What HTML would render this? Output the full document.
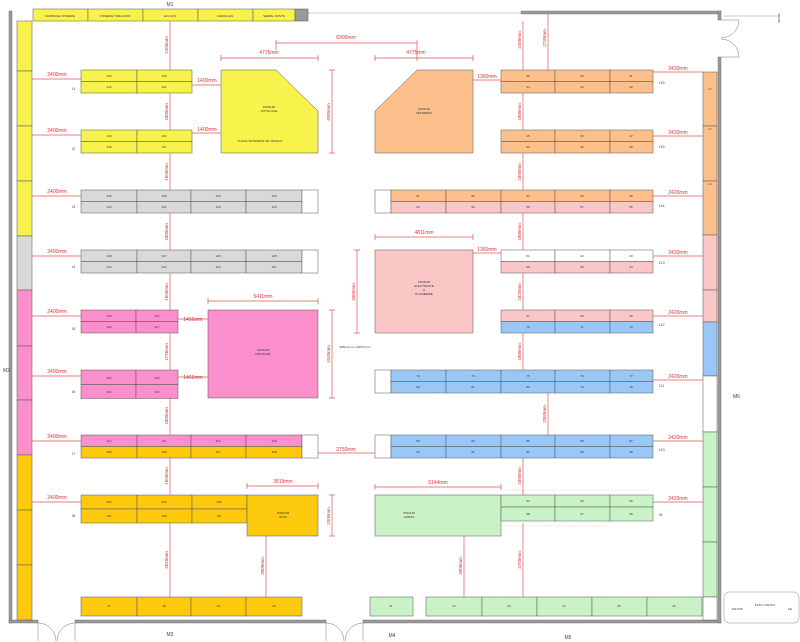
<!DOCTYPE html>
<html><head><meta charset="utf-8"><style>
html,body{margin:0;padding:0;background:#fff}
svg{display:block;font-family:"Liberation Sans",sans-serif}
.c{stroke:#555;stroke-width:.5}
.t{font-size:3px;fill:#333;text-anchor:middle}
.d{stroke:#e05555;stroke-width:.7;fill:none}
.dl{font-size:5px;fill:#d33;text-anchor:middle}
.w{fill:#999;stroke:#666;stroke-width:.4}
.lb{font-size:5px;fill:#444}
</style></head><body>
<svg width="800" height="642" viewBox="0 0 800 642" xmlns="http://www.w3.org/2000/svg">
<rect class="w" x="9" y="11" width="3" height="612"/>
<rect class="w" x="9" y="620" width="29" height="3"/>
<rect class="w" x="75" y="620" width="251" height="3"/>
<rect class="w" x="363" y="620" width="358" height="3"/>
<rect class="w" x="521" y="11" width="200" height="3"/>
<rect class="w" x="718" y="11" width="3" height="9"/>
<rect class="w" x="718" y="57" width="3" height="566"/>
<line x1="308" y1="13" x2="521" y2="13" stroke="#ccc" stroke-width="1"/>
<path d="M38 623 v18 M75 623 v18 M38 623 a18 18 0 0 1 18 18 M75 623 a18 18 0 0 0 -18 18" stroke="#777" fill="none" stroke-width=".5"/>
<path d="M326 623 v18 M363 623 v18 M326 623 a18 18 0 0 1 18 18 M363 623 a18 18 0 0 0 -18 18" stroke="#777" fill="none" stroke-width=".5"/>
<path d="M721 20 h18 M721 57 h18 M739 20 a18 18 0 0 1 -18 18 M739 57 a18 18 0 0 0 -18 -18" stroke="#777" fill="none" stroke-width=".5"/>
<line x1="724" y1="16" x2="780" y2="16" stroke="#777" stroke-width=".4"/>
<text x="780" y="18" class="t" transform="rotate(-90 780 18)">300mm</text>
<text x="170" y="6" class="lb" text-anchor="middle">M1</text>
<text x="3" y="372" class="lb">M2</text>
<text x="170" y="636" class="lb" text-anchor="middle">M3</text>
<text x="392" y="637" class="lb" text-anchor="middle">M4</text>
<text x="568" y="639" class="lb" text-anchor="middle">M5</text>
<text x="733" y="398" class="lb">M6</text>

<g class="c">
<rect x="33" y="9" width="55" height="12" fill="#f8f24c"/><rect x="88" y="9" width="55" height="12" fill="#f8f24c"/><rect x="143" y="9" width="55" height="12" fill="#f8f24c"/><rect x="198" y="9" width="55" height="12" fill="#f8f24c"/><rect x="253" y="9" width="42" height="12" fill="#f8f24c"/><rect x="295" y="9" width="13" height="12" fill="#999"/>
</g>
<g class="t"><text x="60" y="17">CARRIAGE VISSERIE</text><text x="115" y="17">VISSERIE TIRE-FOND</text><text x="170" y="17">ECLOUS</text><text x="225" y="17">CHEVILLES</text><text x="274" y="17">SERRE JOINTS</text></g>

<g class="c">
<rect x="17" y="21" width="15" height="50" fill="#f8f24c"/><rect x="17" y="71" width="15" height="55" fill="#f8f24c"/><rect x="17" y="126" width="15" height="55" fill="#f8f24c"/><rect x="17" y="181" width="15" height="55" fill="#f8f24c"/>
<rect x="17" y="236" width="15" height="54" fill="#d9d9d9"/>
<rect x="17" y="290" width="15" height="56" fill="#fb8fcb"/><rect x="17" y="346" width="15" height="54" fill="#fb8fcb"/><rect x="17" y="400" width="15" height="55" fill="#fb8fcb"/>
<rect x="17" y="455" width="15" height="55" fill="#fdc90d"/><rect x="17" y="510" width="15" height="55" fill="#fdc90d"/><rect x="17" y="565" width="15" height="55" fill="#fdc90d"/>
</g>

<g class="c">
<rect x="703" y="72" width="14" height="54" fill="#fbc08c"/><rect x="703" y="126" width="14" height="55" fill="#fbc08c"/><rect x="703" y="181" width="14" height="54" fill="#fbc08c"/>
<rect x="703" y="235" width="14" height="55" fill="#fac6c6"/><rect x="703" y="290" width="14" height="32" fill="#fac6c6"/>
<rect x="703" y="322" width="14" height="54" fill="#99c8f7"/><rect x="703" y="376" width="14" height="56" fill="#fff"/>
<rect x="703" y="432" width="14" height="55" fill="#c9f3c6"/><rect x="703" y="487" width="14" height="55" fill="#c9f3c6"/><rect x="703" y="542" width="14" height="55" fill="#c9f3c6"/><rect x="703" y="597" width="14" height="23" fill="#fff"/>
</g>
<g class="t"><text x="710" y="90">2 x</text><text x="710" y="130">2 x</text><text x="710" y="185">2 x</text></g>

<g class="c">
<rect x="81" y="70" width="56" height="11.5" fill="#f8f24c"/><rect x="137" y="70" width="55" height="11.5" fill="#f8f24c"/>
<rect x="81" y="81.5" width="56" height="11.5" fill="#f8f24c"/><rect x="137" y="81.5" width="55" height="11.5" fill="#f8f24c"/>
<rect x="81" y="130" width="56" height="11.5" fill="#f8f24c"/><rect x="137" y="130" width="55" height="11.5" fill="#f8f24c"/>
<rect x="81" y="141.5" width="56" height="11.5" fill="#f8f24c"/><rect x="137" y="141.5" width="55" height="11.5" fill="#f8f24c"/>
<rect x="81" y="190" width="56" height="11.5" fill="#d9d9d9"/><rect x="137" y="190" width="54" height="11.5" fill="#d9d9d9"/><rect x="191" y="190" width="55" height="11.5" fill="#d9d9d9"/><rect x="246" y="190" width="56" height="11.5" fill="#d9d9d9"/>
<rect x="81" y="201.5" width="56" height="11.5" fill="#d9d9d9"/><rect x="137" y="201.5" width="54" height="11.5" fill="#d9d9d9"/><rect x="191" y="201.5" width="55" height="11.5" fill="#d9d9d9"/><rect x="246" y="201.5" width="56" height="11.5" fill="#d9d9d9"/>
<rect x="302" y="190" width="16" height="23" fill="#fff"/>
<rect x="81" y="250" width="56" height="11.5" fill="#d9d9d9"/><rect x="137" y="250" width="54" height="11.5" fill="#d9d9d9"/><rect x="191" y="250" width="55" height="11.5" fill="#d9d9d9"/><rect x="246" y="250" width="56" height="11.5" fill="#d9d9d9"/>
<rect x="81" y="261.5" width="56" height="11.5" fill="#d9d9d9"/><rect x="137" y="261.5" width="54" height="11.5" fill="#d9d9d9"/><rect x="191" y="261.5" width="55" height="11.5" fill="#d9d9d9"/><rect x="246" y="261.5" width="56" height="11.5" fill="#d9d9d9"/>
<rect x="302" y="250" width="16" height="23" fill="#fff"/>
<rect x="81" y="310" width="55" height="11.5" fill="#fb8fcb"/><rect x="136" y="310" width="42" height="11.5" fill="#fb8fcb"/>
<rect x="81" y="321.5" width="55" height="11.5" fill="#fb8fcb"/><rect x="136" y="321.5" width="42" height="11.5" fill="#fb8fcb"/>
<rect x="81" y="370" width="55" height="14.5" fill="#fb8fcb"/><rect x="136" y="370" width="42" height="14.5" fill="#fb8fcb"/>
<rect x="81" y="384.5" width="55" height="14" fill="#fb8fcb"/><rect x="136" y="384.5" width="42" height="14" fill="#fb8fcb"/>
<rect x="81" y="435" width="56" height="11.5" fill="#fb8fcb"/><rect x="137" y="435" width="54" height="11.5" fill="#fb8fcb"/><rect x="191" y="435" width="55" height="11.5" fill="#fb8fcb"/><rect x="246" y="435" width="56" height="11.5" fill="#fb8fcb"/>
<rect x="81" y="446.5" width="56" height="11.5" fill="#fdc90d"/><rect x="137" y="446.5" width="54" height="11.5" fill="#fdc90d"/><rect x="191" y="446.5" width="55" height="11.5" fill="#fdc90d"/><rect x="246" y="446.5" width="56" height="11.5" fill="#fdc90d"/>
<rect x="302" y="435" width="16" height="23" fill="#fff"/>
<rect x="81" y="495" width="56" height="14" fill="#fdc90d"/><rect x="137" y="495" width="55" height="14" fill="#fdc90d"/><rect x="192" y="495" width="55" height="14" fill="#fdc90d"/>
<rect x="81" y="509" width="56" height="14" fill="#fdc90d"/><rect x="137" y="509" width="55" height="14" fill="#fdc90d"/><rect x="192" y="509" width="55" height="14" fill="#fdc90d"/>
<rect x="247" y="495" width="71" height="41" fill="#fdc90d"/>
<rect x="81" y="597" width="56" height="19" fill="#fdc90d"/><rect x="137" y="597" width="54" height="19" fill="#fdc90d"/><rect x="191" y="597" width="55" height="19" fill="#fdc90d"/><rect x="246" y="597" width="56" height="19" fill="#fdc90d"/>
<path d="M221 70 H276 L318 111 V153 H221 Z" fill="#f8f24c"/>
<path d="M417 70 H473 V153 H375 V111 Z" fill="#fbc08c"/>
<rect x="208" y="310" width="110" height="88" fill="#fb8fcb"/>
<rect x="375" y="250" width="98" height="83" fill="#fac6c6"/>
<rect x="375" y="495" width="126" height="41" fill="#c9f3c6"/>
</g>
<g class="t">
<text x="109" y="77">143</text><text x="164" y="77">142</text><text x="109" y="88">142</text><text x="164" y="88">141</text>
<text x="109" y="137">140</text><text x="164" y="137">139</text><text x="109" y="148">138</text><text x="164" y="148">137</text>
<text x="109" y="197">136</text><text x="164" y="197">135</text><text x="218" y="197">134</text><text x="274" y="197">133</text>
<text x="109" y="208">132</text><text x="164" y="208">131</text><text x="218" y="208">130</text><text x="274" y="208">129</text>
<text x="109" y="257">128</text><text x="164" y="257">127</text><text x="218" y="257">126</text><text x="274" y="257">125</text>
<text x="109" y="268">124</text><text x="164" y="268">123</text><text x="218" y="268">122</text><text x="274" y="268">121</text>
<text x="109" y="317">120</text><text x="157" y="317">119</text><text x="109" y="328">118</text><text x="157" y="328">117</text>
<text x="109" y="379">116</text><text x="157" y="379">115</text><text x="109" y="393">114</text><text x="157" y="393">113</text>
<text x="109" y="442">112</text><text x="164" y="442">111</text><text x="218" y="442">110</text><text x="274" y="442">109</text>
<text x="109" y="453">105</text><text x="164" y="453">106</text><text x="218" y="453">107</text><text x="274" y="453">108</text>
<text x="109" y="503">104</text><text x="164" y="503">103</text><text x="219" y="503">102</text>
<text x="109" y="517">101</text><text x="164" y="517">100</text><text x="219" y="517">99</text>
<text x="109" y="607">17</text><text x="164" y="607">18</text><text x="218" y="607">19</text><text x="274" y="607">20</text>
<text x="269" y="108">PODIUM</text><text x="269" y="112">OUTILLAGE</text><text x="260" y="142">PLANS VÊTEMENT DE TRAVAIL</text>
<text x="424" y="110">PODIUM</text><text x="424" y="114">VETEMENT</text>
<text x="263" y="351">PODIUM</text><text x="263" y="355">PEINTURE</text>
<text x="424" y="283">PODIUM</text><text x="424" y="287">ELECTRICITE</text><text x="424" y="291">&amp;</text><text x="424" y="295">PLOMBERIE</text>
<text x="283" y="514">PODIUM</text><text x="283" y="518">BOIS</text>
<text x="409" y="514">PODIUM</text><text x="409" y="518">JARDIN</text>
<text x="355" y="348">3650,0 cm x 2870,0 cm</text>
</g>

<g class="c">
<rect x="501" y="70" width="54" height="11.5" fill="#fbc08c"/><rect x="555" y="70" width="55" height="11.5" fill="#fbc08c"/><rect x="610" y="70" width="43" height="11.5" fill="#fbc08c"/>
<rect x="501" y="81.5" width="54" height="11.5" fill="#fbc08c"/><rect x="555" y="81.5" width="55" height="11.5" fill="#fbc08c"/><rect x="610" y="81.5" width="43" height="11.5" fill="#fbc08c"/>
<rect x="501" y="130" width="54" height="11.5" fill="#fbc08c"/><rect x="555" y="130" width="55" height="11.5" fill="#fbc08c"/><rect x="610" y="130" width="43" height="11.5" fill="#fbc08c"/>
<rect x="501" y="141.5" width="54" height="11.5" fill="#fbc08c"/><rect x="555" y="141.5" width="55" height="11.5" fill="#fbc08c"/><rect x="610" y="141.5" width="43" height="11.5" fill="#fbc08c"/>
<rect x="375" y="190" width="16" height="23" fill="#fff"/>
<rect x="391" y="190" width="55" height="11.5" fill="#fbc08c"/><rect x="446" y="190" width="55" height="11.5" fill="#fbc08c"/><rect x="501" y="190" width="54" height="11.5" fill="#fbc08c"/><rect x="555" y="190" width="55" height="11.5" fill="#fbc08c"/><rect x="610" y="190" width="43" height="11.5" fill="#fbc08c"/>
<rect x="391" y="201.5" width="55" height="11.5" fill="#fac6c6"/><rect x="446" y="201.5" width="55" height="11.5" fill="#fac6c6"/><rect x="501" y="201.5" width="54" height="11.5" fill="#fac6c6"/><rect x="555" y="201.5" width="55" height="11.5" fill="#fac6c6"/><rect x="610" y="201.5" width="43" height="11.5" fill="#fac6c6"/>
<rect x="501" y="250" width="54" height="11.5" fill="#fff"/><rect x="555" y="250" width="55" height="11.5" fill="#fff"/><rect x="610" y="250" width="43" height="11.5" fill="#fff"/>
<rect x="501" y="261.5" width="54" height="11.5" fill="#fac6c6"/><rect x="555" y="261.5" width="55" height="11.5" fill="#fac6c6"/><rect x="610" y="261.5" width="43" height="11.5" fill="#fac6c6"/>
<rect x="501" y="310" width="54" height="11.5" fill="#fac6c6"/><rect x="555" y="310" width="55" height="11.5" fill="#fac6c6"/><rect x="610" y="310" width="43" height="11.5" fill="#fac6c6"/>
<rect x="501" y="321.5" width="54" height="11.5" fill="#99c8f7"/><rect x="555" y="321.5" width="55" height="11.5" fill="#99c8f7"/><rect x="610" y="321.5" width="43" height="11.5" fill="#99c8f7"/>
<rect x="375" y="370" width="16" height="23" fill="#fff"/>
<rect x="391" y="370" width="55" height="11.5" fill="#99c8f7"/><rect x="446" y="370" width="55" height="11.5" fill="#99c8f7"/><rect x="501" y="370" width="54" height="11.5" fill="#99c8f7"/><rect x="555" y="370" width="55" height="11.5" fill="#99c8f7"/><rect x="610" y="370" width="43" height="11.5" fill="#99c8f7"/>
<rect x="391" y="381.5" width="55" height="11.5" fill="#99c8f7"/><rect x="446" y="381.5" width="55" height="11.5" fill="#99c8f7"/><rect x="501" y="381.5" width="54" height="11.5" fill="#99c8f7"/><rect x="555" y="381.5" width="55" height="11.5" fill="#99c8f7"/><rect x="610" y="381.5" width="43" height="11.5" fill="#99c8f7"/>
<rect x="375" y="435" width="16" height="23" fill="#fff"/>
<rect x="391" y="435" width="55" height="11.5" fill="#99c8f7"/><rect x="446" y="435" width="55" height="11.5" fill="#99c8f7"/><rect x="501" y="435" width="54" height="11.5" fill="#99c8f7"/><rect x="555" y="435" width="55" height="11.5" fill="#99c8f7"/><rect x="610" y="435" width="43" height="11.5" fill="#99c8f7"/>
<rect x="391" y="446.5" width="55" height="11.5" fill="#99c8f7"/><rect x="446" y="446.5" width="55" height="11.5" fill="#99c8f7"/><rect x="501" y="446.5" width="54" height="11.5" fill="#99c8f7"/><rect x="555" y="446.5" width="55" height="11.5" fill="#99c8f7"/><rect x="610" y="446.5" width="43" height="11.5" fill="#99c8f7"/>
<rect x="501" y="495" width="54" height="12" fill="#c9f3c6"/><rect x="555" y="495" width="55" height="12" fill="#c9f3c6"/><rect x="610" y="495" width="43" height="12" fill="#c9f3c6"/>
<rect x="501" y="507" width="54" height="14" fill="#c9f3c6"/><rect x="555" y="507" width="55" height="14" fill="#c9f3c6"/><rect x="610" y="507" width="43" height="14" fill="#c9f3c6"/>
<rect x="370" y="597" width="43" height="19" fill="#c9f3c6"/>
<rect x="426" y="597" width="56" height="19" fill="#c9f3c6"/><rect x="482" y="597" width="55" height="19" fill="#c9f3c6"/><rect x="537" y="597" width="55" height="19" fill="#c9f3c6"/><rect x="592" y="597" width="55" height="19" fill="#c9f3c6"/><rect x="647" y="597" width="55" height="19" fill="#c9f3c6"/>
</g>
<path d="M503 490H650 M505 526H607" stroke="#bbb" stroke-width=".4" stroke-dasharray="2 1"/>
<g class="t">
<text x="528" y="77">39</text><text x="582" y="77">40</text><text x="631" y="77">41</text><text x="528" y="88">44</text><text x="582" y="88">43</text><text x="631" y="88">42</text>
<text x="528" y="137">45</text><text x="582" y="137">46</text><text x="631" y="137">47</text><text x="528" y="148">50</text><text x="582" y="148">49</text><text x="631" y="148">48</text>
<text x="418" y="197">51</text><text x="473" y="197">52</text><text x="528" y="197">53</text><text x="582" y="197">54</text><text x="631" y="197">55</text>
<text x="418" y="208">60</text><text x="473" y="208">59</text><text x="528" y="208">58</text><text x="582" y="208">57</text><text x="631" y="208">56</text>
<text x="528" y="257">61</text><text x="582" y="257">62</text><text x="631" y="257">63</text><text x="528" y="268">66</text><text x="582" y="268">65</text><text x="631" y="268">64</text>
<text x="528" y="317">67</text><text x="582" y="317">68</text><text x="631" y="317">69</text><text x="528" y="328">72</text><text x="582" y="328">71</text><text x="631" y="328">70</text>
<text x="418" y="377">73</text><text x="473" y="377">74</text><text x="528" y="377">75</text><text x="582" y="377">76</text><text x="631" y="377">77</text>
<text x="418" y="388">82</text><text x="473" y="388">81</text><text x="528" y="388">80</text><text x="582" y="388">79</text><text x="631" y="388">78</text>
<text x="418" y="442">83</text><text x="473" y="442">84</text><text x="528" y="442">85</text><text x="582" y="442">86</text><text x="631" y="442">87</text>
<text x="418" y="453">92</text><text x="473" y="453">91</text><text x="528" y="453">90</text><text x="582" y="453">89</text><text x="631" y="453">88</text>
<text x="528" y="502">93</text><text x="582" y="502">94</text><text x="631" y="502">95</text><text x="528" y="515">98</text><text x="582" y="515">97</text><text x="631" y="515">96</text>
<text x="391" y="607">21</text><text x="454" y="607">22</text><text x="509" y="607">23</text><text x="564" y="607">24</text><text x="619" y="607">25</text><text x="674" y="607">26</text>
</g>
<g class="lb" style="font-size:4px">
<text x="72" y="90">I1</text><text x="72" y="150">I2</text><text x="72" y="208">I3</text><text x="72" y="268">I4</text><text x="72" y="330">I5</text><text x="72" y="393">I6</text><text x="72" y="455">I7</text><text x="72" y="517">I8</text>
<text x="659" y="84">I15</text><text x="659" y="148">I15</text><text x="659" y="207">I14</text><text x="659" y="264">I13</text><text x="659" y="326">I12</text><text x="659" y="387">I11</text><text x="659" y="451">I10</text><text x="659" y="516">I9</text>
</g>

<rect x="724" y="592" width="75" height="31" rx="5" fill="#fff" stroke="#888" stroke-width=".5"/>
<text x="765" y="606" class="t">PLAN YVETOT</text><text x="737" y="610" class="t">2017/05</text><text x="790" y="610" class="t">F.E</text>

<g class="d">
<path d="M170 21V70 M170 93V130 M170 153V190 M170 213V250 M170 273V310 M170 333V370 M170 398V435 M170 458V495 M170 523V597"/>
<path d="M32 79H81 M32 135H81 M32 196H81 M32 256H81 M32 316H81 M32 376H81 M32 441H81 M32 502H81"/>
<path d="M192 85H221 M192 133H221 M178 319H208 M178 377H208 M318 453H375 M473 80H501 M473 253H501"/>
<path d="M653 72H703 M653 136H703 M653 196H703 M653 256H703 M653 316H703 M653 380H703 M653 441H703 M653 502H703"/>
<path d="M523 21V70 M548 14V70 M523 93V130 M523 153V190 M523 213V250 M523 273V310 M523 333V370 M548 393V435 M523 458V495 M523 523V597 M266 536V597 M464 536V597"/>
<path d="M221 58H318 M221 55V61 M318 55V61 M276 43H417 M276 40V50 M375 58H473 M375 55V61 M473 55V61 M417 40V61"/>
<path d="M332 70V153 M329 70H335 M329 153H335 M375 237H473 M375 234V240 M473 234V240 M357 250V333 M354 250H360 M354 333H360"/>
<path d="M208 301H318 M208 298V304 M318 298V304 M332 310V398 M329 310H335 M329 398H335 M247 486H318 M247 483V489 M318 483V489 M332 495V536 M329 495H335 M329 536H335 M375 487H501 M375 484V490 M501 484V490"/>
</g>
<g class="dl">
<text x="57" y="76">2400mm</text><text x="57" y="132">2400mm</text><text x="57" y="193">2400mm</text><text x="57" y="253">2400mm</text><text x="57" y="313">2400mm</text><text x="57" y="373">2400mm</text><text x="57" y="438">2400mm</text><text x="57" y="499">2400mm</text>
<text x="678" y="70">2420mm</text><text x="678" y="134">2420mm</text><text x="678" y="194">2420mm</text><text x="678" y="254">2420mm</text><text x="678" y="314">2420mm</text><text x="678" y="378">2420mm</text><text x="678" y="439">2420mm</text><text x="678" y="500">2420mm</text>
<text x="207" y="82">1400mm</text><text x="207" y="131">1400mm</text><text x="193" y="321">1466mm</text><text x="193" y="379">1466mm</text><text x="346" y="451">2750mm</text><text x="487" y="78">1360mm</text><text x="487" y="251">1360mm</text>
<text x="269" y="54">4775mm</text><text x="346" y="39">6900mm</text><text x="416" y="54">4775mm</text><text x="424" y="234">4811mm</text><text x="263" y="298">5411mm</text><text x="283" y="483">3519mm</text><text x="438" y="484">6144mm</text>
</g>
<g class="dl" style="font-size:4.5px">
<text transform="translate(168 45) rotate(-90)">2400mm</text><text transform="translate(168 112) rotate(-90)">1800mm</text><text transform="translate(168 172) rotate(-90)">1800mm</text><text transform="translate(168 232) rotate(-90)">1800mm</text><text transform="translate(168 292) rotate(-90)">1800mm</text><text transform="translate(168 352) rotate(-90)">1796mm</text><text transform="translate(168 416) rotate(-90)">1800mm</text><text transform="translate(168 476) rotate(-90)">1800mm</text><text transform="translate(168 560) rotate(-90)">3620mm</text>
<text transform="translate(521 40) rotate(-90)">2400mm</text><text transform="translate(546 38) rotate(-90)">2730mm</text><text transform="translate(521 112) rotate(-90)">1800mm</text><text transform="translate(521 172) rotate(-90)">1800mm</text><text transform="translate(521 232) rotate(-90)">1800mm</text><text transform="translate(521 292) rotate(-90)">1820mm</text><text transform="translate(521 352) rotate(-90)">1800mm</text><text transform="translate(546 414) rotate(-90)">2050mm</text><text transform="translate(521 476) rotate(-90)">1800mm</text><text transform="translate(521 560) rotate(-90)">2750mm</text>
<text transform="translate(264 566) rotate(-90)">3000mm</text><text transform="translate(462 566) rotate(-90)">3000mm</text><text transform="translate(330 112) rotate(-90)">4080mm</text><text transform="translate(355 292) rotate(-90)">4080mm</text><text transform="translate(330 354) rotate(-90)">4340mm</text><text transform="translate(330 516) rotate(-90)">2500mm</text>
</g>
</svg>
</body></html>
